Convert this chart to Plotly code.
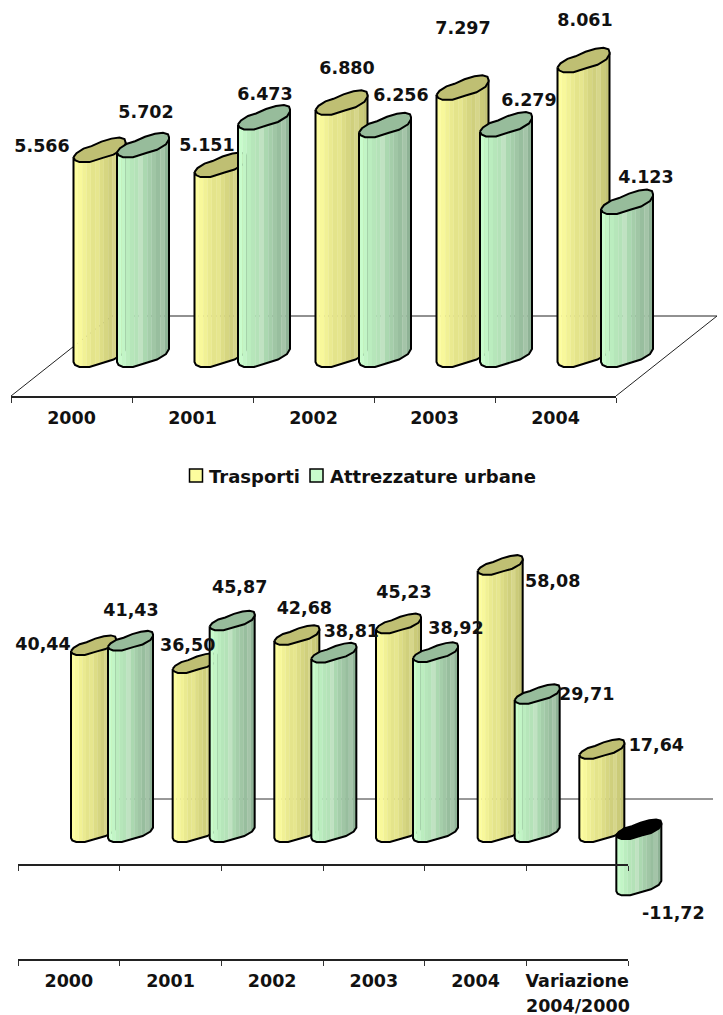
import numpy as np
import plotly.graph_objects as go

# ---- data ----
years = ["2000", "2001", "2002", "2003", "2004"]
trasporti_abs = [5566, 5151, 6880, 7297, 8061]
attrezzature_abs = [5702, 6473, 6256, 6279, 4123]

categories_pct = ["2000", "2001", "2002", "2003", "2004", "Variazione"]
trasporti_pct = [40.44, 36.50, 42.68, 45.23, 58.08, 17.64]
attrezzature_pct = [41.43, 45.87, 38.81, 38.92, 29.71, -11.72]

SERIES_NAMES = ["Trasporti", "Attrezzature urbane"]

# ---- page layout, pixels ----
W, H = 723, 1015
FONT = "DejaVu Sans"
LABEL_SIZE = 17.5

TOP = dict(x0=11, gw=121, groups=5, zero=357.5, scale=0.036, axis_y=396, top_y=0,
           left=(62.5, 106), width=52, cap_k=1.0, drop=4.5)
BOT = dict(x0=18, gw=610 / 6, groups=6, zero=835, scale=4.55, axis_y=959, top_y=480,
           left=(53, 90), width=45, cap_k=0.8, drop=3)

# Cylinder end outline, in pixels from its left point for a 52 px wide cylinder
UPPER = [(0, 0), (3, -4), (10, -8.5), (18, -11), (28, -15.5), (38, -18.5), (46, -19.5), (51, -18), (52, -15)]
LOWER = [(0, 0), (1.5, 3), (6, 5), (16, 5), (30, 0.5), (40, -2.5), (49, -8), (52, -13), (52, -15)]

YELLOW_BANDS = ["#FDFD9E", "#F8F89B", "#F1F195", "#EAEA90", "#E4E48B", "#E6E68E", "#DDDD86",
                "#D6D681", "#D0D07D", "#D6D68A", "#CBCB79", "#C4C475"]
GREEN_BANDS = ["#C8FCCC", "#C2F5C6", "#BBEDBF", "#B6E6BA", "#B4E2B8", "#C0E2C2", "#ABD8B0",
               "#A5CEAA", "#A0C6A5", "#98BE9E", "#A4C4A8", "#8FB396"]
YELLOW_CAP = "#BFBF73"
GREEN_CAP = "#97BC9B"

# Label centres, pixels from the left point of the bar end
LABEL_NUDGE = 2
TOP_Y_OFF = [(-31.5, -11.1), (12.5, -27.1), (31.5, -41.8), (26.5, -66.8), (27.5, -47.3)]
TOP_G_OFF = [(29, -40.2), (27, -30.5), (42, -37.3), (49, -31.5), (45, -32.1)]
BOT_Y_OFF = [(-28, -7), (15, -24.8), (30, -32.8), (28, -37.3), (75, 10.1), (77, -9.9)]
BOT_G_OFF = [(23, -36.5), (30, -39.3), (40, -27.4), (43, -29.9), (72, -6.5), (57, 24.6)]


def val(cfg, py):
    """Value on the chart's y axis that sits at page row py."""
    return (cfg["zero"] - py) / cfg["scale"]


def pos(cfg, px):
    """Position on the chart's x axis that sits at page column px."""
    return (px - cfg["x0"]) / cfg["gw"]


def cylinder(fig, cfg, group, series, value, bands, cap_color, xa, ya):
    """Draw one shaded cylinder: colour bands, outline and end cap."""
    w = cfg["width"]
    k = cfg["cap_k"]
    sx = w / 52.0
    left = group * cfg["gw"] + cfg["left"][series]
    lx = np.array([p[0] for p in LOWER]) * sx
    ly = np.array([p[1] for p in LOWER]) * k
    ux = np.array([p[0] for p in UPPER]) * sx
    uy = np.array([p[1] for p in UPPER]) * k
    s = cfg["scale"]
    hi = max(value, 0)
    lo = min(value, 0) - cfg["drop"] / s

    def to_x(dx):
        return (left + np.asarray(dx, dtype=float)) / cfg["gw"]

    for j, c in enumerate(bands):
        t = np.linspace(j, j + 1, 5) / len(bands) * w
        d = np.interp(t, lx, ly) / s
        xs = np.r_[to_x(t), to_x(t[::-1])]
        ys = np.r_[hi - d, (lo - d)[::-1]]
        fig.add_trace(go.Scatter(x=xs, y=ys, mode="lines", fill="toself", fillcolor=c,
                                 line=dict(color=c, width=0.5), hoverinfo="skip",
                                 showlegend=False, xaxis=xa, yaxis=ya))

    # body outline
    xs = np.r_[to_x([0]), to_x(lx), to_x([w])]
    ys = np.r_[hi, lo - ly / s, hi - ly[-1] / s]
    fig.add_trace(go.Scatter(x=xs, y=ys, mode="lines", line=dict(color="#000", width=2),
                             hoverinfo="skip", showlegend=False, xaxis=xa, yaxis=ya))

    # end cap: the inside of the tube shows black on a negative bar
    xs = np.r_[to_x(ux), to_x(lx[::-1])]
    ys = np.r_[hi - uy / s, hi - ly[::-1] / s]
    fig.add_trace(go.Scatter(x=xs, y=ys, mode="lines", fill="toself",
                             fillcolor="#000" if value < 0 else cap_color,
                             line=dict(color="#000", width=2), hoverinfo="skip",
                             showlegend=False, xaxis=xa, yaxis=ya))


def labels(cfg, series, values, offsets, fmt):
    xs, ys, texts = [], [], []
    for i, (v, (dx, dy)) in enumerate(zip(values, offsets)):
        xs.append(i + (cfg["left"][series] + dx) / cfg["gw"])
        ys.append(v - (dy + LABEL_NUDGE) / cfg["scale"])
        texts.append(fmt(v))
    return xs, ys, texts


fig = go.Figure()

# ---- upper chart: floor of the 3-D plot ----
back_y = 316
floor_x = [pos(TOP, 11), pos(TOP, 112), pos(TOP, 717), pos(TOP, 616)]
floor_y = [val(TOP, 396), val(TOP, back_y), val(TOP, back_y), val(TOP, 396)]
fig.add_trace(go.Scatter(x=floor_x, y=floor_y, mode="lines", line=dict(color="#222", width=1),
                         hoverinfo="skip", showlegend=False, xaxis="x", yaxis="y"))

for i in range(len(years)):
    cylinder(fig, TOP, i, 0, trasporti_abs[i], YELLOW_BANDS, YELLOW_CAP, "x", "y")
    cylinder(fig, TOP, i, 1, attrezzature_abs[i], GREEN_BANDS, GREEN_CAP, "x", "y")

fmt_abs = lambda v: f"{v:,}".replace(",", ".")
fmt_pct = lambda v: f"{v:.2f}".replace(".", ",")


def label_trace(cfg, series, vals, off, fmt, xa, ya):
    lx_, ly_, lt_ = labels(cfg, series, vals, off, fmt)
    return go.Scatter(x=lx_, y=ly_, text=lt_, mode="text", textposition="middle center",
                      textfont=dict(family=FONT, size=LABEL_SIZE, color="#111", weight="bold"),
                      name=SERIES_NAMES[series], showlegend=False, cliponaxis=False, xaxis=xa, yaxis=ya)


fig.add_trace(label_trace(TOP, 0, trasporti_abs, TOP_Y_OFF, fmt_abs, "x", "y"))
fig.add_trace(label_trace(TOP, 1, attrezzature_abs, TOP_G_OFF, fmt_abs, "x", "y"))

# ---- lower chart: zero line behind the bars ----
fig.add_trace(go.Scatter(x=[pos(BOT, 100), pos(BOT, 713)], y=[val(BOT, 799), val(BOT, 799)], mode="lines",
                         line=dict(color="#333", width=1), hoverinfo="skip", showlegend=False,
                         xaxis="x2", yaxis="y2"))

for i in range(len(categories_pct)):
    cylinder(fig, BOT, i, 0, trasporti_pct[i], YELLOW_BANDS, YELLOW_CAP, "x2", "y2")
    cylinder(fig, BOT, i, 1, attrezzature_pct[i], GREEN_BANDS, GREEN_CAP, "x2", "y2")

fig.add_trace(label_trace(BOT, 0, trasporti_pct, BOT_Y_OFF, fmt_pct, "x2", "y2"))
fig.add_trace(label_trace(BOT, 1, attrezzature_pct, BOT_G_OFF, fmt_pct, "x2", "y2"))

# empty traces keep the tick axes on the page
for xa, ya in (("x3", "y3"), ("x4", "y4"), ("x5", "y4")):
    fig.add_trace(go.Scatter(x=[None], y=[None], mode="lines", hoverinfo="skip", showlegend=False,
                             xaxis=xa, yaxis=ya))


def mark_axis(cfg, anchor):
    # spans the whole page so cylinders and floor lines can leave the tick range
    return dict(domain=[0, 1], range=[pos(cfg, 0), pos(cfg, W)], visible=False, anchor=anchor)


def tick_axis(cfg, names, anchor):
    n = cfg["groups"]
    return dict(
        domain=[cfg["x0"] / W, (cfg["x0"] + n * cfg["gw"]) / W], anchor=anchor,
        range=[0, n], showgrid=False, zeroline=False, showline=True, linecolor="#222", linewidth=1.5,
        tickmode="array", tickvals=[i + 0.5 for i in range(len(names))], ticktext=names,
        ticks="outside", ticklen=5, tickcolor="rgba(0,0,0,0)", tickwidth=1,
        tickfont=dict(family=FONT, size=LABEL_SIZE, color="#111", weight="bold"),
        minor=dict(tickmode="array", tickvals=list(range(n + 1)), ticks="outside", ticklen=5,
                   tickcolor="#333", tickwidth=1.2, showgrid=False),
    )


def y_axis(cfg, anchor):
    return dict(domain=[1 - cfg["axis_y"] / H, 1 - cfg["top_y"] / H], anchor=anchor,
                range=[val(cfg, cfg["axis_y"]), val(cfg, cfg["top_y"])], visible=False)


fig.update_layout(
    width=W, height=H, margin=dict(l=0, r=0, t=0, b=0),
    paper_bgcolor="#fff", plot_bgcolor="rgba(0,0,0,0)", showlegend=False,
    xaxis=mark_axis(TOP, "y"), yaxis=y_axis(TOP, "x"),
    xaxis2=mark_axis(BOT, "y2"), yaxis2=y_axis(BOT, "x2"),
    xaxis3=tick_axis(TOP, years, "y3"), yaxis3=y_axis(TOP, "x3"),
    xaxis4=tick_axis(BOT, categories_pct, "y4"), yaxis4=y_axis(BOT, "x4"),
    xaxis5=dict(
        domain=[BOT["x0"] / W, (BOT["x0"] + 6 * BOT["gw"]) / W], range=[0, 6], overlaying="x4",
        anchor="free", position=1 - 865 / H, showgrid=False, zeroline=False, showline=True,
        linecolor="#222", linewidth=1.5, showticklabels=False, tickmode="array", tickvals=list(range(7)),
        ticks="outside", ticklen=5, tickcolor="#333", tickwidth=1.2,
    ),
)

# ---- second line of the last category ----
fig.add_annotation(xref="paper", yref="paper", x=578 / W, y=1 - 1006 / H, text="2004/2000", showarrow=False,
                   font=dict(family=FONT, size=LABEL_SIZE, color="#111", weight="bold"),
                   xanchor="center", yanchor="middle")

# ---- series key ----
key = [(189.5, 208, YELLOW_BANDS[0], SERIES_NAMES[0]), (310, 329, GREEN_BANDS[0], SERIES_NAMES[1])]
for sx, tx, col, name in key:
    fig.add_shape(type="rect", xref="paper", yref="paper", x0=sx / W, x1=(sx + 13) / W,
                  y0=1 - 482 / H, y1=1 - 469 / H, fillcolor=col, line=dict(color="#000", width=1.5))
    fig.add_annotation(xref="paper", yref="paper", x=tx / W, y=1 - 476 / H, text=name, showarrow=False,
                       xanchor="left", yanchor="middle", xshift=-1,
                       font=dict(family=FONT, size=18, color="#111", weight="bold"))

fig.write_html("out.html", config=dict(displayModeBar=False))
